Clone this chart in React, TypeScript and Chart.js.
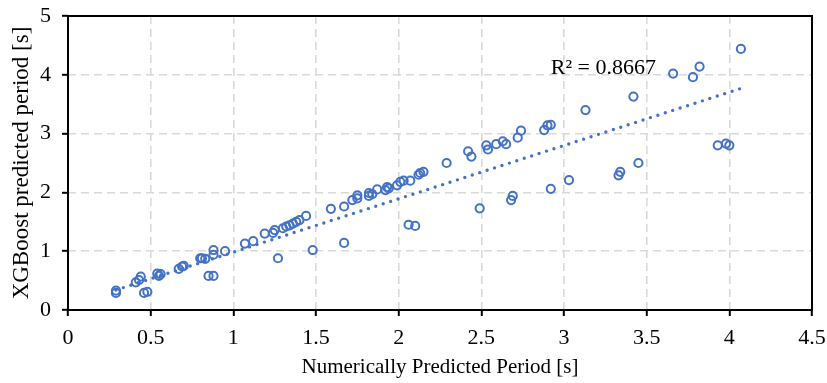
import React, { useEffect, useRef } from "react";
import { Chart, registerables } from "chart.js";

Chart.register(...registerables);

// Numerically predicted period [s]
const numericalPeriod: number[] = [
  0.29, 0.29, 0.41, 0.43, 0.44, 0.46, 0.48, 0.54, 0.55, 0.56,
  0.67, 0.69, 0.70, 0.80, 0.81, 0.83, 0.85, 0.88, 0.88, 0.88,
  0.95, 1.07, 1.12, 1.19, 1.24, 1.25, 1.27, 1.30, 1.32, 1.34,
  1.36, 1.38, 1.40, 1.44, 1.48, 1.59, 1.67, 1.67, 1.72, 1.75,
  1.75, 1.82, 1.82, 1.84, 1.87, 1.92, 1.93, 1.94, 1.99, 2.01,
  2.03, 2.07, 2.06, 2.10, 2.12, 2.13, 2.15, 2.29, 2.42, 2.44,
  2.49, 2.53, 2.54, 2.59, 2.63, 2.65, 2.68, 2.69, 2.72, 2.74,
  2.88, 2.90, 2.92, 2.92, 3.03, 3.13, 3.33, 3.34, 3.42, 3.45,
  3.66, 3.78, 3.82, 3.93, 3.98, 4.00, 4.07,
];

// XGBoost predicted period [s]
const xgboostPeriod: number[] = [
  0.29, 0.33, 0.47, 0.51, 0.57, 0.29, 0.31, 0.62, 0.58, 0.61,
  0.70, 0.74, 0.75, 0.88, 0.88, 0.87, 0.58, 0.58, 1.02, 0.94,
  1.00, 1.13, 1.17, 1.30, 1.31, 1.36, 0.88, 1.39, 1.42, 1.44,
  1.47, 1.50, 1.53, 1.60, 1.02, 1.72, 1.76, 1.14, 1.87, 1.90,
  1.95, 1.99, 1.94, 1.97, 2.05, 2.04, 2.09, 2.07, 2.12, 2.18,
  2.20, 2.20, 1.45, 1.43, 2.30, 2.33, 2.35, 2.50, 2.70, 2.61,
  1.73, 2.80, 2.73, 2.82, 2.87, 2.82, 1.87, 1.94, 2.93, 3.05,
  3.06, 3.14, 3.15, 2.06, 2.21, 3.40, 2.29, 2.35, 3.63, 2.50,
  4.02, 3.96, 4.14, 2.80, 2.83, 2.80, 4.44,
];

// Linear trendline y = slope * x + intercept
const trendSlope = 0.907;
const trendIntercept = 0.077;
const r2Label = "R² = 0.8667";
const r2LabelPos = [2.92, 4.02];

const xTicks = { min: 0, max: 4.5, step: 0.5 };
const yTicks = { min: 0, max: 5, step: 1 };

const xTitle = "Numerically Predicted Period [s]";
const yTitle = "XGBoost predicted period [s]";

const BLUE = "#4472C4";
const FONT = "'Liberation Serif', 'Times New Roman', serif";

const fmt = (v: any) => String(Math.round(Number(v) * 10) / 10);

export default function App() {
  const canvasRef = useRef<HTMLCanvasElement | null>(null);

  useEffect(() => {
    document.body.style.margin = "0";
    const canvas = canvasRef.current;
    if (!canvas) return;

    const points = numericalPeriod.map((x, i) => ({ x, y: xgboostPeriod[i] }));
    const xMin = Math.min(...numericalPeriod);
    const xMax = Math.max(...numericalPeriod);
    const trend = [
      { x: xMin, y: trendSlope * xMin + trendIntercept },
      { x: xMax, y: trendSlope * xMax + trendIntercept },
    ];

    const frame = {
      id: "frameAndLabel",
      afterDraw(chart: any) {
        const { ctx, chartArea } = chart;
        ctx.save();
        ctx.strokeStyle = "#000";
        ctx.lineWidth = 2;
        ctx.setLineDash([]);
        ctx.strokeRect(
          chartArea.left,
          chartArea.top,
          chartArea.right - chartArea.left,
          chartArea.bottom - chartArea.top
        );
        const xs = chart.scales.x;
        const ys = chart.scales.y;
        ctx.fillStyle = "#000";
        ctx.font = `22px ${FONT}`;
        ctx.textBaseline = "alphabetic";
        ctx.textAlign = "left";
        ctx.fillText(r2Label, xs.getPixelForValue(r2LabelPos[0]), ys.getPixelForValue(r2LabelPos[1]));
        ctx.restore();
      },
    };

    const gridCommon = {
      color: "#d9d9d9",
      lineWidth: 1.6,
      borderDash: [8, 5],
      tickColor: "#000",
      tickWidth: 2,
      tickLength: 6,
      tickBorderDash: [],
    };

    const chart = new Chart(canvas, {
      type: "scatter",
      data: {
        datasets: [
          {
            label: "Data",
            data: points,
            pointStyle: "circle",
            pointRadius: 4.1,
            pointBorderWidth: 2,
            pointBorderColor: BLUE,
            pointBackgroundColor: "rgba(0,0,0,0)",
            showLine: false,
            order: 1,
          },
          {
            label: "Trend",
            data: trend,
            showLine: true,
            pointRadius: 0,
            borderColor: BLUE,
            borderWidth: 3.4,
            borderDash: [0, 7.8],
            borderCapStyle: "round",
            fill: false,
            order: 0,
          } as any,
        ],
      },
      plugins: [frame],
      options: {
        responsive: false,
        animation: false,
        devicePixelRatio: 1,
        layout: { padding: { left: 0, right: 15, top: 16, bottom: 0 } },
        plugins: {
          legend: { display: false },
          tooltip: { enabled: false },
        },
        scales: {
          x: {
            type: "linear",
            min: xTicks.min,
            max: xTicks.max,
            afterFit: (s: any) => {
              s.height = 73;
              s.paddingLeft = 0;
              s.paddingRight = 0;
            },
            ticks: {
              stepSize: xTicks.step,
              color: "#000",
              padding: 9,
              font: { family: FONT, size: 22 },
              maxRotation: 0,
              callback: fmt,
            },
            grid: gridCommon as any,
            border: { display: false, dash: [8, 5] },
            title: {
              display: true,
              text: xTitle,
              color: "#000",
              font: { family: FONT, size: 21 },
              padding: { top: 0, bottom: 3 },
            },
          },
          y: {
            type: "linear",
            min: yTicks.min,
            max: yTicks.max,
            afterFit: (s: any) => {
              s.width = 68;
              s.paddingTop = 0;
              s.paddingBottom = 0;
            },
            ticks: {
              stepSize: yTicks.step,
              color: "#000",
              padding: 11,
              font: { family: FONT, size: 22 },
              callback: fmt,
            },
            grid: gridCommon as any,
            border: { display: false, dash: [8, 5] },
            title: {
              display: true,
              text: yTitle,
              color: "#000",
              font: { family: FONT, size: 23 },
              padding: { top: 8, bottom: 0 },
            },
          },
        },
      },
    });

    return () => chart.destroy();
  }, []);

  return (
    <div style={{ width: 827, height: 383, background: "#fff" }}>
      <canvas ref={canvasRef} width={827} height={383} />
    </div>
  );
}
